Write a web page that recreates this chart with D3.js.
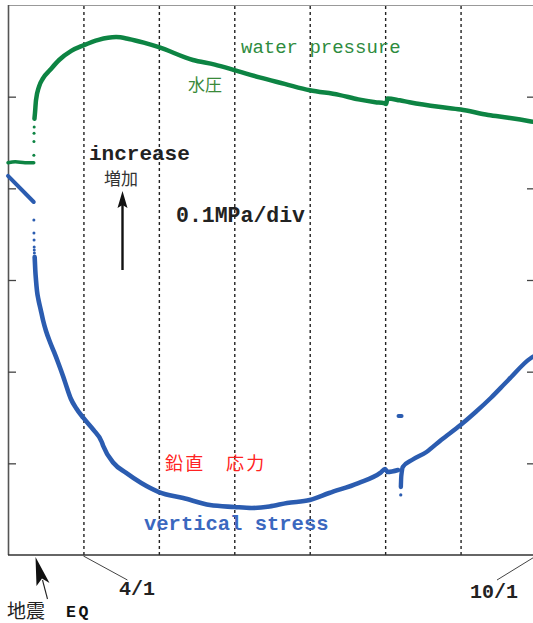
<!DOCTYPE html>
<html><head><meta charset="utf-8">
<script src="https://cdn.jsdelivr.net/npm/d3@7"></script>
<style>
html,body{margin:0;padding:0;background:#fff;}
svg{display:block;}
</style></head><body>
<script>
// ---------------- data (relative MPa) ----------------
const monthStarts = ["2011-03-01","2011-04-01","2011-05-01","2011-06-01","2011-07-01","2011-08-01","2011-09-01","2011-10-01"];
const gridMonths  = ["2011-04-01","2011-05-01","2011-06-01","2011-07-01","2011-08-01","2011-09-01"];
const dateLabels  = [["2011-04-01","4/1"],["2011-10-01","10/1"]];
const yTicks = [0.1,0.2,0.3,0.4,0.5];

const waterPre = [["2011-03-01T00:00",0.428],["2011-03-04T00:00",0.429],["2011-03-08T00:00",0.428],["2011-03-11T14:00",0.428]];
const waterQuake = [["2011-03-11T15:00",0.436],["2011-03-11T16:00",0.451],["2011-03-11T17:00",0.460],["2011-03-11T18:00",0.467]];
const waterPost = [
  ["2011-03-11T21:00",0.476],["2011-03-12T02:00",0.482],["2011-03-12T12:00",0.496],["2011-03-13T18:00",0.511],
  ["2011-03-15T09:00",0.520],["2011-03-18T06:00",0.529],["2011-03-22T00:00",0.540],["2011-03-27T00:00",0.550],
  ["2011-04-01T00:00",0.556],["2011-04-07T00:00",0.562],["2011-04-14T00:00",0.565],["2011-04-19T00:00",0.563],
  ["2011-04-25T00:00",0.559],["2011-05-01T00:00",0.554],["2011-05-15T00:00",0.540],["2011-05-24T00:00",0.535],
  ["2011-06-01T00:00",0.529],["2011-06-11T00:00",0.521],["2011-06-21T00:00",0.514],["2011-07-01T00:00",0.507],
  ["2011-07-13T00:00",0.502],["2011-07-21T00:00",0.497],["2011-07-28T00:00",0.494],["2011-07-31T12:00",0.493],
  ["2011-08-01T09:00",0.492],["2011-08-02T00:00",0.498],["2011-08-07T00:00",0.496],["2011-08-11T00:00",0.494],
  ["2011-08-23T00:00",0.489],["2011-09-01T00:00",0.486],["2011-09-12T00:00",0.480],["2011-09-20T00:00",0.477],
  ["2011-09-29T00:00",0.473],["2011-10-01T00:00",0.472]];

const stressPre = [["2011-03-01T00:00",0.4135],["2011-03-11T14:00",0.3851]];
const stressQuake = [["2011-03-11T15:00",0.3655],["2011-03-11T16:00",0.3513],["2011-03-11T17:00",0.3436],
  ["2011-03-11T18:00",0.3360],["2011-03-11T19:00",0.3327],["2011-03-11T20:00",0.3295]];
const stressPost = [
  ["2011-03-11T23:00",0.3251],["2011-03-12T05:00",0.3109],["2011-03-12T12:00",0.3000],["2011-03-12T22:00",0.2880],
  ["2011-03-13T13:00",0.2782],["2011-03-14T09:00",0.2684],["2011-03-15T09:00",0.2564],["2011-03-16T15:00",0.2444],
  ["2011-03-18T06:00",0.2324],["2011-03-19T22:00",0.2215],["2011-03-21T16:00",0.2095],["2011-03-23T18:00",0.1942],
  ["2011-03-25T06:00",0.1822],["2011-03-26T21:00",0.1702],["2011-03-28T23:00",0.1604],["2011-04-01T00:00",0.1495],
  ["2011-04-05T00:00",0.1364],["2011-04-08T07:00",0.1233],["2011-04-08T19:00",0.1195],["2011-04-13T00:00",0.1004],
  ["2011-04-18T00:00",0.0895],["2011-04-24T00:00",0.0785],["2011-05-01T00:00",0.0687],["2011-05-11T00:00",0.0622],
  ["2011-05-22T00:00",0.0545],["2011-06-01T00:00",0.0524],["2011-06-08T00:00",0.0513],["2011-06-15T00:00",0.0529],
  ["2011-06-22T00:00",0.0567],["2011-07-01T00:00",0.0600],["2011-07-09T00:00",0.0676],["2011-07-21T00:00",0.0785],
  ["2011-07-30T00:00",0.0895],["2011-08-01T00:00",0.0938],["2011-08-02T00:00",0.0905],["2011-08-06T08:00",0.0927]];
const stressDrop = [["2011-08-07T10:00",0.0655]];
const stressAfter = [
  ["2011-08-07T11:00",0.0742],["2011-08-07T14:00",0.0840],["2011-08-07T20:00",0.0905],["2011-08-08T06:00",0.0960],
  ["2011-08-12T00:00",0.1036],["2011-08-18T00:00",0.1124],["2011-08-24T00:00",0.1255],["2011-09-01T00:00",0.1418],
  ["2011-09-07T00:00",0.1560],["2011-09-13T00:00",0.1713],["2011-09-20T00:00",0.1909],["2011-09-29T00:00",0.2149],
  ["2011-10-01T00:00",0.2180]];
const stressStray = [["2011-08-06T12:00",0.1516],["2011-08-07T18:00",0.1516]];

// ---------------- drawing ----------------
const W = 533, H = 623;
const L = 8, R = 536, T = 5, B = 555;
const GREEN = "#0d8443", BLUE = "#2b5cb0";
const parse = d3.isoParse;

const svg = d3.select("body").append("svg").attr("width", W).attr("height", H)
  .style("font-family", "'Liberation Mono', 'DejaVu Sans Mono', monospace");

const x = d3.scaleTime()
  .domain(monthStarts.map(parse))
  .range(monthStarts.map((d, i) => L + i * (R - L) / (monthStarts.length - 1)));
const y = d3.scaleLinear().domain([0, 0.6]).range([B, T]);

// dashed month grid
svg.append("g").attr("transform", `translate(0,${B})`)
  .call(d3.axisBottom(x).tickValues(gridMonths.map(parse)).tickSize(-(B - T)).tickFormat(""))
  .call(g => g.select(".domain").remove())
  .call(g => g.selectAll("line").attr("stroke", "#222").attr("stroke-width", 1.4).attr("stroke-dasharray", "3,3"));

// frame
svg.append("line").attr("x1", L).attr("x2", W).attr("y1", T + 0.5).attr("y2", T + 0.5).attr("stroke", "#999").attr("stroke-width", 1.2);
svg.append("line").attr("x1", L + 0.5).attr("x2", L + 0.5).attr("y1", T).attr("y2", B).attr("stroke", "#555").attr("stroke-width", 1.6);
svg.append("line").attr("x1", L).attr("x2", W).attr("y1", B).attr("y2", B).attr("stroke", "#333").attr("stroke-width", 1.6);

// y ticks (left & right, inward, no labels)
svg.append("g").attr("transform", `translate(${L},0)`)
  .call(d3.axisLeft(y).tickValues(yTicks).tickSize(-8).tickFormat(""))
  .call(g => g.select(".domain").remove())
  .call(g => g.selectAll("line").attr("stroke", "#444").attr("stroke-width", 1.3));
svg.append("g").attr("transform", `translate(${R},0)`)
  .call(d3.axisRight(y).tickValues(yTicks).tickSize(-9).tickFormat(""))
  .call(g => g.select(".domain").remove())
  .call(g => g.selectAll("line").attr("stroke", "#444").attr("stroke-width", 1.3));

// series
const line = d3.line().x(d => x(parse(d[0]))).y(d => y(d[1])).curve(d3.curveMonotoneX);
function drawLine(data, color, w) {
  svg.append("path").datum(data).attr("d", line).attr("fill", "none")
    .attr("stroke", color).attr("stroke-width", w).attr("stroke-linejoin", "round").attr("stroke-linecap", "round");
}
function drawDots(data, color, r) {
  svg.append("g").selectAll("circle").data(data).join("circle")
    .attr("cx", d => x(parse(d[0]))).attr("cy", d => y(d[1])).attr("r", r).attr("fill", color);
}
drawLine(waterPre, GREEN, 3.5);
drawDots(waterQuake, GREEN, 1.5);
drawLine(waterPost, GREEN, 4.5);
drawLine(stressPre, BLUE, 4);
drawDots(stressQuake, BLUE, 1.5);
drawLine(stressPost, BLUE, 4.6);
drawDots(stressDrop, BLUE, 1.6);
drawLine(stressAfter, BLUE, 4.4);
drawLine(stressStray, BLUE, 4);

// date labels with leader lines
dateLabels.forEach(([d, t], i) => {
  const px = x(parse(d));
  const ex = i === 0 ? px + 44 : px - 39, ey = B + 25;
  svg.append("line").attr("x1", px).attr("y1", B + 1).attr("x2", ex).attr("y2", ey)
    .attr("stroke", "#444").attr("stroke-width", 1);
  svg.append("text").attr("x", i === 0 ? 137 : 494).attr("y", i === 0 ? 595 : 597.5)
    .attr("text-anchor", "middle").attr("font-size", 20).attr("font-weight", "bold").attr("fill", "#222").text(t);
});

// annotations
const cjk = "'Noto Sans CJK JP', 'Noto Sans CJK SC', sans-serif";
svg.append("text").attr("x", 241).attr("y", 53).attr("font-size", 19).attr("fill", "#2e8b3e").text("water pressure");
svg.append("text").attr("x", 188).attr("y", 91).attr("font-size", 17).attr("font-family", cjk).attr("fill", "#3a8a3a").text("水圧");
svg.append("text").attr("x", 89).attr("y", 160).attr("font-size", 21).attr("font-weight", "bold").attr("fill", "#222").text("increase");
svg.append("text").attr("x", 104).attr("y", 185).attr("font-size", 17).attr("font-family", cjk).attr("fill", "#333").text("増加");
svg.append("text").attr("x", 176).attr("y", 222).attr("font-size", 21.5).attr("font-weight", "bold").attr("fill", "#222").text("0.1MPa/div");
svg.append("text").attr("x", 165).attr("y", 470).attr("font-size", 18).attr("letter-spacing", 2.3).attr("font-family", cjk).attr("fill", "#f22").text("鉛直　応力");
svg.append("text").attr("x", 144).attr("y", 530).attr("font-size", 20.5).attr("font-weight", "bold").attr("fill", "#3b68bf").text("vertical stress");
svg.append("text").attr("x", 7).attr("y", 618).attr("font-size", 19).attr("font-family", cjk).attr("fill", "#222").text("地震");
svg.append("text").attr("x", 66).attr("y", 617).attr("font-size", 16.5).attr("font-weight", "bold").attr("letter-spacing", 2.5).attr("fill", "#111").text("EQ");

// "increase" arrow
svg.append("line").attr("x1", 122.5).attr("x2", 122.5).attr("y1", 270).attr("y2", 200).attr("stroke", "#111").attr("stroke-width", 2.4);
svg.append("path").attr("d", "M122.5,191 L127.5,208 L122.5,205 L117.5,208 Z").attr("fill", "#111");

// EQ arrow (cursor-like)
svg.append("line").attr("x1", 42.5).attr("y1", 580).attr("x2", 47.5).attr("y2", 599).attr("stroke", "#222").attr("stroke-width", 1.1);
svg.append("path").attr("d", "M35.5,557 L36.5,586 L42,578.5 L49.5,583 Z").attr("fill", "#111");
</script>
</body></html>
